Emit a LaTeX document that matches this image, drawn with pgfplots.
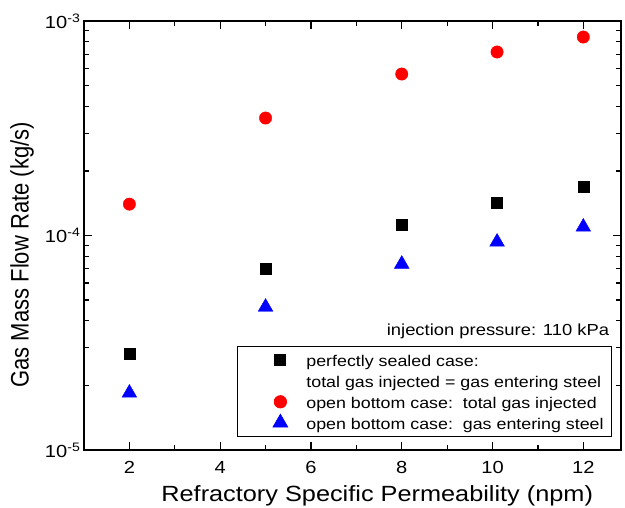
\documentclass[border=0pt]{standalone}
\usepackage{fontspec}
\setmainfont{Liberation Sans}
\usepackage{graphicx}
\usepackage{pgfplots}
\pgfplotsset{compat=1.18}
\newcommand{\hs}[1]{\scalebox{1.15}[1]{#1}}
\begin{document}
\begin{tikzpicture}
\useasboundingbox (-84pt,-58pt) rectangle (541pt,450pt);
\begin{axis}[
  at={(0pt,0pt)}, anchor=south west,
  scale only axis, width=537pt, height=429pt,
  xmin=1, xmax=12.83,
  ymode=log, ymin=1e-5, ymax=1e-3,
  xtick={2,4,...,12}, minor x tick num=1,
  xticklabel={\hs{\pgfmathprintnumber{\tick}}},
  ytick={1e-5,1e-4,1e-3},
  yticklabels={\hs{10\textsuperscript{-5}},\hs{10\textsuperscript{-4}},\hs{10\textsuperscript{-3}}},
  /pgf/number format/assume math mode=true,
  tick align=inside,
  axis line style={line width=1.5pt},
  major tick length=8pt, minor tick length=5.5pt,
  every tick/.style={black, line width=1.2pt},
  tick label style={font=\fontsize{17.5}{20}\selectfont},
  xticklabel style={anchor=base, yshift=-23.3pt},
  every axis x label/.style={at={(axis description cs:0.546,-0.119)}, anchor=base},
  every axis y label/.style={at={(axis description cs:-0.1155,0.455)}, rotate=90, anchor=center},
  label style={font=\fontsize{22}{25}\selectfont},
  xlabel={\hs{Refractory Specific Permeability (npm)}},
  ylabel={\scalebox{1}[1.15]{Gas Mass Flow Rate (kg/s)}},
  legend style={at={(axis description cs:0.2849,0.031)}, anchor=south west,
    draw=black, line width=0.8pt, font=\fontsize{15.5}{18}\selectfont,
    nodes={inner sep=0pt, text height=17pt, text depth=4pt},
    row sep=0pt, inner xsep=8pt, inner ysep=3pt},
  legend cell align=left,
  legend image code/.code={\path[draw=none] (0pt,0pt) -- (61pt,0pt); \draw[#1] plot[only marks] coordinates {(35pt,0pt)};},
]
\addplot[only marks, mark=square*, mark size=5.5pt, color=black] coordinates {
  (2,2.80e-5) (5,6.98e-5) (8,1.12e-4) (10.1,1.417e-4) (12,1.68e-4)};
\addlegendentry{\hs{perfectly sealed case:}}
\addlegendimage{empty legend}
\addlegendentry{\hs{total gas injected = gas entering steel}}
\addplot[only marks, mark=*, mark size=6.2pt, color=red] coordinates {
  (2,1.40e-4) (5,3.53e-4) (8,5.66e-4) (10.1,7.17e-4) (12,8.42e-4)};
\addlegendentry{\hs{open bottom case:\ \ total gas injected}}
\addplot[only marks, mark=triangle*, mark size=8.5pt, color=blue] coordinates {
  (2,1.845e-5) (5,4.64e-5) (8,7.36e-5) (10.1,9.33e-5) (12,1.096e-4)};
\addlegendentry{\hs{open bottom case:\ \ gas entering steel}}
\node[anchor=base east, font=\fontsize{16}{18}\selectfont] at (axis description cs:0.9845,0.268) {\hs{injection pressure: 110 kPa}};
\end{axis}
\end{tikzpicture}
\end{document}
